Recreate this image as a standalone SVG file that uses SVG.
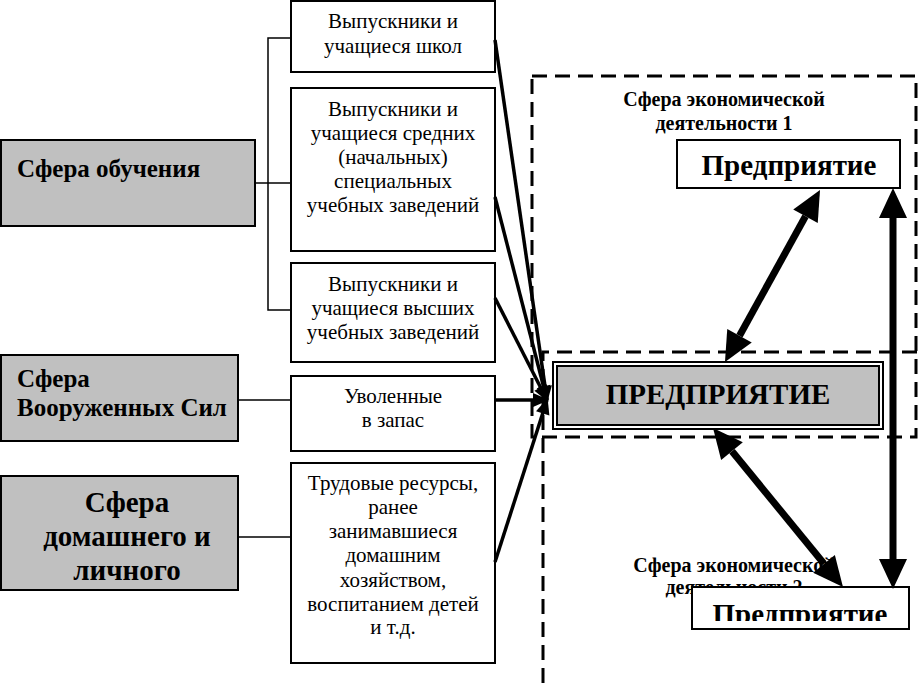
<svg xmlns="http://www.w3.org/2000/svg" width="918" height="683" viewBox="0 0 918 683">
<style>
  text { font-family: "Liberation Serif", "Times New Roman", "DejaVu Serif", serif; fill: #000; }
  .gray { fill: #c0c0c0; stroke: #000; stroke-width: 2; }
  .box { fill: #fff; stroke: #000; stroke-width: 2; }
  .bt { font-size: 21px; text-anchor: middle; }
  .gt { font-size: 25px; font-weight: bold; }
  .gh { font-size: 29px; font-weight: bold; text-anchor: middle; }
  .thin { stroke: #000; stroke-width: 1.5; fill: none; }
  .feed { stroke: #000; stroke-width: 3.5; fill: none; marker-end: url(#sm); }
  .dash { stroke: #000; stroke-width: 3; fill: none; stroke-dasharray: 15 8; }
  .big { stroke: #000; stroke-width: 7; fill: none; marker-start: url(#bh); marker-end: url(#bh); }
  .lbl { font-size: 20px; font-weight: bold; text-anchor: middle; }
  .ent { font-size: 29px; font-weight: bold; text-anchor: middle; }
</style>
<defs>
  <marker id="bh" markerUnits="userSpaceOnUse" markerWidth="30" markerHeight="28" refX="0" refY="14" orient="auto-start-reverse" overflow="visible">
    <path d="M0,0 L30,14 L0,28 z" fill="#000"/>
  </marker>
  <marker id="sm" markerUnits="userSpaceOnUse" markerWidth="16" markerHeight="14" refX="14" refY="7" orient="auto" overflow="visible">
    <path d="M0,0 L16,7 L0,14 z" fill="#000"/>
  </marker>
  <clipPath id="clipLow"><rect x="692" y="587" width="217" height="34"/></clipPath>
</defs>

<!-- dashed regions -->
<g id="region1">
  <rect x="532" y="76" width="384" height="361" class="dash"/>
  <text class="lbl" x="724" y="106">Сфера экономической</text>
  <text class="lbl" x="724" y="130">деятельности 1</text>
</g>
<g id="region2">
  <path d="M543,683 L543,352 L918,352" class="dash"/>
  <text class="lbl" x="734" y="572">Сфера экономической</text>
  <text class="lbl" x="734" y="594">деятельности 2</text>
</g>

<!-- left sphere boxes -->
<g id="sphere-education">
  <rect x="1" y="140" width="254" height="86" class="gray"/>
  <text class="gt" x="17" y="177">Сфера обучения</text>
</g>
<g id="sphere-army">
  <rect x="1" y="355" width="237" height="86" class="gray"/>
  <text class="gt" x="17" y="387">Сфера</text>
  <text class="gt" x="17" y="416">Вооруженных Сил</text>
</g>
<g id="sphere-home">
  <rect x="1" y="476" width="237" height="114" class="gray"/>
  <text class="gh" x="127" y="512">Сфера</text>
  <text class="gh" x="127" y="546">домашнего и</text>
  <text class="gh" x="127" y="580">личного</text>
</g>

<!-- middle boxes -->
<g id="school">
  <rect x="291" y="1" width="204" height="71" class="box"/>
  <text class="bt" x="393" y="28">Выпускники  и</text>
  <text class="bt" x="393" y="53">учащиеся школ</text>
</g>
<g id="college">
  <rect x="291" y="88" width="204" height="163" class="box"/>
  <text class="bt" x="393" y="116">Выпускники  и</text>
  <text class="bt" x="393" y="140">учащиеся средних</text>
  <text class="bt" x="393" y="164">(начальных)</text>
  <text class="bt" x="393" y="188">специальных</text>
  <text class="bt" x="393" y="212">учебных заведений</text>
</g>
<g id="university">
  <rect x="291" y="263" width="204" height="99" class="box"/>
  <text class="bt" x="393" y="291">Выпускники и</text>
  <text class="bt" x="393" y="315">учащиеся  высших</text>
  <text class="bt" x="393" y="339">учебных заведений</text>
</g>
<g id="reserve">
  <rect x="291" y="376" width="204" height="75" class="box"/>
  <text class="bt" x="393" y="403">Уволенные</text>
  <text class="bt" x="393" y="427">в запас</text>
</g>
<g id="household">
  <rect x="291" y="463" width="204" height="200" class="box"/>
  <text class="bt" x="393" y="490">Трудовые ресурсы,</text>
  <text class="bt" x="393" y="514">ранее</text>
  <text class="bt" x="393" y="538">занимавшиеся</text>
  <text class="bt" x="393" y="562">домашним</text>
  <text class="bt" x="393" y="587">хозяйством,</text>
  <text class="bt" x="393" y="611">воспитанием детей</text>
  <text class="bt" x="393" y="634">и т.д.</text>
</g>

<!-- enterprises -->
<g id="enterprise-main">
  <rect x="553" y="362" width="330" height="67" fill="#fff" stroke="#000" stroke-width="2"/>
  <rect x="557" y="366" width="322" height="59" fill="#c0c0c0" stroke="#000" stroke-width="2"/>
  <text class="ent" x="718" y="404">ПРЕДПРИЯТИЕ</text>
</g>
<g id="enterprise-1">
  <rect x="677" y="140" width="223" height="48" class="box"/>
  <text class="ent" x="789" y="175">Предприятие</text>
</g>
<g id="enterprise-2">
  <rect x="692" y="587" width="217" height="42" class="box"/>
  <text class="ent" x="800" y="624" clip-path="url(#clipLow)">Предприятие</text>
</g>

<!-- connectors -->
<g id="connectors">
  <path class="thin" d="M291,38 L268,38 L268,310 L291,310"/>
  <path class="thin" d="M255,183 L291,183"/>
  <path class="thin" d="M238,400 L291,400"/>
  <path class="thin" d="M238,537 L291,537"/>
  <path class="feed" d="M495,40 L547,400"/>
  <path class="feed" d="M495,197 L547,400"/>
  <path class="feed" d="M495,298 L547,400"/>
  <path class="feed" d="M495,400 L547,400" stroke-width="5"/>
  <path class="feed" d="M495,562 L547,400"/>
  <path class="big" d="M739.5,335.7 L805.5,216.3"/>
  <path class="big" d="M893,218 L893,559" stroke-width="8"/>
  <path class="big" d="M732,451.2 L824,563.8"/>
</g>
</svg>
